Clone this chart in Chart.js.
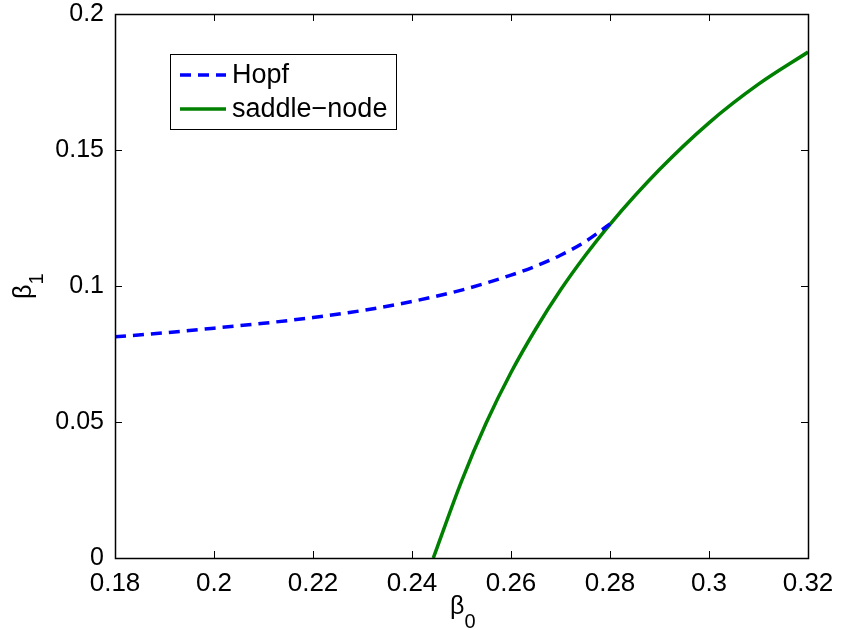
<!DOCTYPE html>
<html>
<head>
<meta charset="utf-8">
<script src="https://cdn.jsdelivr.net/npm/chart.js@4.4.1/dist/chart.umd.min.js"></script>
<style>
  html, body { margin: 0; padding: 0; background: #fff; }
  #wrap { width: 841px; height: 630px; }
</style>
</head>
<body>
<div id="wrap"><canvas id="bifChart" width="841" height="630"></canvas></div>
<script>
// Hopf curve (beta0, beta1)
const hopfX = [0.18, 0.19, 0.20, 0.21, 0.22, 0.23, 0.24, 0.25, 0.26, 0.265, 0.27, 0.275, 0.28];
const hopfY = [0.0813, 0.0828, 0.0845, 0.0863, 0.0884, 0.0910, 0.0943, 0.0985, 0.1040, 0.1073, 0.1113, 0.1163, 0.1228];

// saddle-node curve
const snX = [0.2443, 0.250, 0.255, 0.260, 0.265, 0.270, 0.275, 0.280, 0.290, 0.300, 0.310, 0.320];
const snY = [0.0000, 0.0282, 0.0497, 0.0682, 0.0842, 0.0985, 0.1112, 0.1227, 0.1428, 0.1600, 0.1742, 0.1860];

const xTicks = [0.18, 0.20, 0.22, 0.24, 0.26, 0.28, 0.30, 0.32];
const yTicks = [0, 0.05, 0.10, 0.15, 0.20];

const seriesNames = ['Hopf', 'saddle\u2212node'];

const toPoints = (xs, ys) => xs.map((x, i) => ({ x: x, y: ys[i] }));

// Rahmen, Ticks nach innen, Legende und Achsentitel
const matlabFrame = {
    id: 'matlabFrame',
    afterDraw: (chart) => {
        const ctx = chart.ctx;
        const a = chart.chartArea;
        const xs = chart.scales.x;
        const ys = chart.scales.y;
        const tl = 7;

        ctx.save();
        ctx.strokeStyle = '#000';
        ctx.lineWidth = 1;
        ctx.beginPath();
        xTicks.forEach(v => {
            const px = Math.round(xs.getPixelForValue(v)) + 0.5;
            ctx.moveTo(px, a.bottom); ctx.lineTo(px, a.bottom - tl);
            ctx.moveTo(px, a.top); ctx.lineTo(px, a.top + tl);
        });
        yTicks.forEach(v => {
            const py = Math.round(ys.getPixelForValue(v)) + 0.5;
            ctx.moveTo(a.left, py); ctx.lineTo(a.left + tl, py);
            ctx.moveTo(a.right, py); ctx.lineTo(a.right - tl, py);
        });
        ctx.stroke();
        ctx.lineWidth = 1.5;
        ctx.strokeRect(Math.round(a.left) + 0.5, Math.round(a.top) + 0.5,
            Math.round(a.right - a.left), Math.round(a.bottom - a.top));
        ctx.restore();

        // Legende
        const lx = 170.5, ly = 54.5, lw = 226, lh = 75;
        ctx.save();
        ctx.fillStyle = '#fff';
        ctx.fillRect(lx, ly, lw, lh);
        ctx.strokeStyle = '#000';
        ctx.lineWidth = 1;
        ctx.strokeRect(lx, ly, lw, lh);
        chart.data.datasets.forEach((ds, i) => {
            const yy = 75 + i * 34;
            ctx.beginPath();
            ctx.strokeStyle = ds.borderColor;
            ctx.lineWidth = ds.borderWidth;
            ctx.setLineDash(ds.borderDash || []);
            ctx.moveTo(180, yy);
            ctx.lineTo(226, yy);
            ctx.stroke();
            ctx.setLineDash([]);
            ctx.fillStyle = '#000';
            ctx.font = '27px "Liberation Sans", Arial, sans-serif';
            ctx.textAlign = 'left';
            ctx.textBaseline = 'middle';
            ctx.fillText(ds.label, 232, yy + 1);
        });
        ctx.restore();

        // Achsentitel beta_0 a beta_1
        ctx.save();
        ctx.fillStyle = '#000';
        ctx.textBaseline = 'alphabetic';
        ctx.textAlign = 'left';
        ctx.font = '25px "Liberation Sans", Arial, sans-serif';
        const bw = ctx.measureText('\u03b2').width;
        const bx = 450;
        ctx.fillText('\u03b2', bx, 614);
        ctx.font = '20px "Liberation Sans", Arial, sans-serif';
        ctx.fillText('0', bx + bw, 628);

        ctx.translate(31, 299);
        ctx.rotate(-Math.PI / 2);
        ctx.font = '25px "Liberation Sans", Arial, sans-serif';
        ctx.fillText('\u03b2', 0, 0);
        ctx.font = '20px "Liberation Sans", Arial, sans-serif';
        ctx.fillText('1', bw, 12);
        ctx.restore();
    }
};

new Chart(document.getElementById('bifChart').getContext('2d'), {
    type: 'line',
    data: {
        datasets: [
            {
                label: seriesNames[0],
                data: toPoints(hopfX, hopfY),
                borderColor: '#0000ff',
                borderWidth: 3.5,
                borderDash: [11, 7],
                pointRadius: 0,
                fill: false,
                cubicInterpolationMode: 'monotone'
            },
            {
                label: seriesNames[1],
                data: toPoints(snX, snY),
                borderColor: '#008000',
                borderWidth: 3.5,
                pointRadius: 0,
                fill: false,
                cubicInterpolationMode: 'monotone'
            }
        ]
    },
    options: {
        responsive: false,
        animation: false,
        devicePixelRatio: 1,
        layout: { padding: { top: 14, right: 33, left: 0, bottom: 0 } },
        plugins: {
            legend: { display: false },
            tooltip: { enabled: false }
        },
        scales: {
            x: {
                type: 'linear',
                min: 0.18,
                max: 0.32,
                afterFit: (s) => {
                    s.height = 72;
                    s.paddingLeft = 0; s.paddingRight = 0;
                },
                afterBuildTicks: (s) => { s.ticks = xTicks.map(v => ({ value: v })); },
                grid: { display: false },
                border: { display: false },
                ticks: {
                    color: '#000',
                    padding: 2,
                    maxRotation: 0,
                    font: { family: '"Liberation Sans", Arial', size: 26 },
                    callback: (v) => String(+v.toFixed(2))
                }
            },
            y: {
                type: 'linear',
                min: 0,
                max: 0.2,
                afterFit: (s) => {
                    s.width = 115;
                    s.paddingTop = 0; s.paddingBottom = 0;
                },
                afterBuildTicks: (s) => { s.ticks = yTicks.map(v => ({ value: v })); },
                grid: { display: false },
                border: { display: false },
                ticks: {
                    color: '#000',
                    padding: 3,
                    font: { family: '"Liberation Sans", Arial', size: 25 },
                    callback: (v) => String(+v.toFixed(2))
                }
            }
        }
    },
    plugins: [matlabFrame]
});
</script>
</body>
</html>
